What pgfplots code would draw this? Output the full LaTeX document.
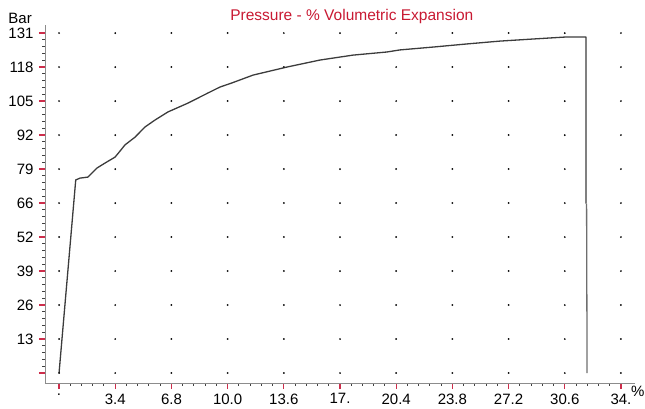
\documentclass[border=0pt]{standalone}
\usepackage{fontspec}
\setmainfont{Liberation Sans}
\usepackage{pgfplots}
\pgfplotsset{compat=1.18}
\definecolor{tickred}{RGB}{205,45,75}
\definecolor{titlered}{RGB}{200,25,50}
\definecolor{curvegray}{RGB}{60,60,60}
\definecolor{dropgray}{RGB}{110,110,110}
\definecolor{axisgray}{RGB}{140,140,140}
\definecolor{dotgray}{RGB}{150,150,150}
\begin{document}
\begin{tikzpicture}
\useasboundingbox (-45pt,-25pt) rectangle (600pt,383pt);
\begin{axis}[
  name=ax,
  scale only axis, width=590pt, height=358pt,
  xmin=-0.85, xmax=34.85, ymin=-3.85, ymax=134.1,
  axis x line=bottom, axis y line=left,
  axis line style={-, draw=axisgray, line width=0.9pt},
  xtick={0,3.4,6.8,10.2,13.6,17,20.4,23.8,27.2,30.6,34},
  xticklabels={.,3.4,6.8,10.0,13.6,17.,20.4,23.8,27.2,30.6,34.},
  ytick={0,13.1,26.2,39.3,52.4,65.5,78.6,91.7,104.8,117.9,131},
  yticklabels={,13,26,39,52,66,79,92,105,118,131},
  minor tick num=4,
  tick align=outside,
  major tick length=6pt, minor tick length=2.5pt,
  major tick style={draw=tickred, line width=1.1pt},
  minor tick style={draw=black!75, line width=1pt},
  tick label style={font=\fontsize{15}{18}\selectfont, text=black},
  yticklabel style={xshift=-2pt},
  xticklabel style={yshift=-1pt},
  title={Pressure - \% Volumetric Expansion},
  title style={at={(axis description cs:0.52,0.997)}, anchor=base, inner sep=0pt,
    font=\fontsize{15.5}{18}\selectfont, text=titlered},
]
\addplot[only marks, mark=*, mark size=0.7pt, mark options={draw=none, fill=dotgray}] coordinates {
(0,0)(0,13.1)(0,26.2)(0,39.3)(0,52.4)(0,65.5)(0,78.6)(0,91.7)(0,104.8)(0,117.9)(0,131)
(3.4,0)(3.4,13.1)(3.4,26.2)(3.4,39.3)(3.4,52.4)(3.4,65.5)(3.4,78.6)(3.4,91.7)(3.4,104.8)(3.4,117.9)(3.4,131)
(6.8,0)(6.8,13.1)(6.8,26.2)(6.8,39.3)(6.8,52.4)(6.8,65.5)(6.8,78.6)(6.8,91.7)(6.8,104.8)(6.8,117.9)(6.8,131)
(10.2,0)(10.2,13.1)(10.2,26.2)(10.2,39.3)(10.2,52.4)(10.2,65.5)(10.2,78.6)(10.2,91.7)(10.2,104.8)(10.2,117.9)(10.2,131)
(13.6,0)(13.6,13.1)(13.6,26.2)(13.6,39.3)(13.6,52.4)(13.6,65.5)(13.6,78.6)(13.6,91.7)(13.6,104.8)(13.6,117.9)(13.6,131)
(17,0)(17,13.1)(17,26.2)(17,39.3)(17,52.4)(17,65.5)(17,78.6)(17,91.7)(17,104.8)(17,117.9)(17,131)
(20.4,0)(20.4,13.1)(20.4,26.2)(20.4,39.3)(20.4,52.4)(20.4,65.5)(20.4,78.6)(20.4,91.7)(20.4,104.8)(20.4,117.9)(20.4,131)
(23.8,0)(23.8,13.1)(23.8,26.2)(23.8,39.3)(23.8,52.4)(23.8,65.5)(23.8,78.6)(23.8,91.7)(23.8,104.8)(23.8,117.9)(23.8,131)
(27.2,0)(27.2,13.1)(27.2,26.2)(27.2,39.3)(27.2,52.4)(27.2,65.5)(27.2,78.6)(27.2,91.7)(27.2,104.8)(27.2,117.9)(27.2,131)
(30.6,0)(30.6,13.1)(30.6,26.2)(30.6,39.3)(30.6,52.4)(30.6,65.5)(30.6,78.6)(30.6,91.7)(30.6,104.8)(30.6,117.9)(30.6,131)
(34,0)(34,13.1)(34,26.2)(34,39.3)(34,52.4)(34,65.5)(34,78.6)(34,91.7)(34,104.8)(34,117.9)(34,131)
};
\addplot[curvegray, line width=1.3pt, line join=round] coordinates {
(0,0)(1.01,74.4)(1.27,75.1)(1.75,75.5)(2.30,79.0)(2.78,80.9)(3.39,83.2)
(3.70,85.6)(3.99,87.9)(4.60,90.9)(5.20,94.8)(5.81,97.5)(6.59,100.6)(7.80,104.0)
(9.01,107.9)(9.74,110.2)(10.47,111.8)(11.74,114.8)(13.79,117.9)(15.79,120.6)
(17.79,122.5)(19.84,123.7)(20.63,124.5)(22.63,125.6)(24.68,126.8)(26.68,127.9)
(28.68,128.7)(30.73,129.5)(31.88,129.5)(31.88,65.3)
};
\addplot[dropgray, line width=1.3pt] coordinates {(31.92,65.3)(31.95,0)};
\end{axis}
\node[anchor=base east, inner sep=0pt, font=\fontsize{15}{18}\selectfont, xshift=-13pt, yshift=1pt] at (ax.north west) {Bar};
\node[anchor=base west, inner sep=0pt, font=\fontsize{15}{18}\selectfont, xshift=-4pt, yshift=-13pt] at (ax.south east) {\%};
\end{tikzpicture}
\end{document}
